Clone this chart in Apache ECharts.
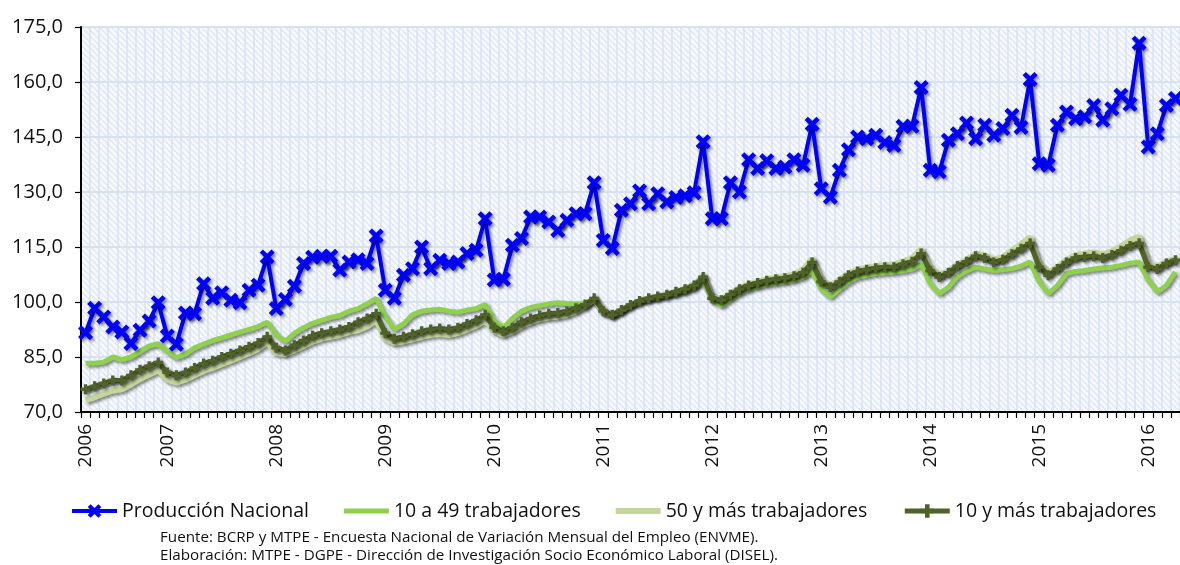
<!DOCTYPE html>
<html>
<head>
<meta charset="utf-8">
<script src="https://cdn.jsdelivr.net/npm/echarts@6/dist/echarts.min.js"></script>
<style>
html,body{margin:0;padding:0;background:#fff;}
#c{width:1180px;height:565px;}
</style>
</head>
<body>
<div id="c"></div>
<script>
// Months from Apr 2006 to Apr 2016
const startYear = 2006, startMonth = 4, monthCount = 121;
const categories = [];
for (let i = 0; i < monthCount; i++) {
  const m = (startMonth - 1 + i) % 12 + 1;
  const y = startYear + Math.floor((startMonth - 1 + i) / 12);
  categories.push(y + '-' + (m < 10 ? '0' + m : m));
}

const yTicks = [70, 85, 100, 115, 130, 145, 160, 175];

const seriesNames = ['Producción Nacional', '10 a 49 trabajadores', '50 y más trabajadores', '10 y más trabajadores'];

const produccionNacional = [
  91.6, 98.3, 95.9, 93.2, 91.8, 88.7, 92.3, 94.8, 99.8,
  90.7, 88.5, 97.0, 96.8, 105.0, 101.0, 102.5, 100.5, 99.8, 103.2, 104.6, 112.3,
  98.2, 100.7, 104.3, 110.5, 112.2, 112.5, 112.5, 108.7, 110.9, 111.5, 110.5, 118.0,
  103.2, 101.0, 107.3, 109.1, 115.0, 109.1, 111.4, 110.5, 110.9, 113.2, 114.1, 122.7,
  106.0, 106.2, 115.5, 117.3, 123.2, 123.2, 121.8, 119.5, 122.3, 124.1, 124.1, 132.5,
  116.8, 114.6, 125.0, 126.8, 130.3, 126.8, 129.5, 127.3, 128.5, 129.0, 129.8, 143.7,
  122.7, 122.7, 132.5, 130.0, 138.8, 136.4, 138.5, 136.4, 136.8, 138.8, 137.3, 148.5,
  130.9, 128.6, 135.9, 141.5, 145.0, 144.5, 145.5, 143.5, 142.7, 147.9, 147.9, 158.5,
  135.9, 135.5, 144.1, 145.9, 148.8, 144.5, 148.2, 145.5, 147.3, 150.9, 147.6, 160.7,
  137.7, 137.3, 148.2, 151.8, 150.0, 150.5, 153.6, 149.6, 152.7, 156.4, 153.9, 170.6,
  142.3, 145.9, 153.6, 155.5
];

const trab10a49 = [
  83.3, 83.3, 83.6, 85.0, 84.2, 85.0, 86.5, 88.0, 88.6,
  86.5, 84.8, 85.8, 87.5, 88.5, 89.5, 90.2, 91.0, 91.8, 92.5, 93.3, 94.5,
  91.0, 89.2, 91.5, 93.0, 94.2, 95.0, 95.8, 96.3, 97.5, 98.2, 99.5, 101.0,
  96.0, 92.5, 94.0, 96.5, 97.5, 97.8, 98.0, 97.5, 97.2, 97.8, 98.2, 99.3,
  94.8, 93.0, 95.5, 97.5, 98.5, 99.0, 99.5, 99.8, 99.6, 99.5, 99.5, 100.8,
  97.5, 96.2, 97.5, 99.2, 100.2, 100.8, 101.3, 101.8, 102.2, 103.0, 103.8, 105.8,
  100.5, 99.0, 100.8, 102.5, 103.5, 104.2, 104.8, 105.2, 105.5, 106.0, 106.8, 108.5,
  103.5, 101.4, 103.5, 105.5, 106.8, 107.3, 107.8, 108.0, 108.2, 108.5, 109.0, 110.3,
  105.0, 102.3, 104.0, 107.0, 108.5, 109.5, 109.0, 108.6, 108.8, 109.1, 109.8, 110.9,
  105.5, 102.3, 104.5, 107.8, 108.3, 108.6, 109.0, 109.3, 109.5, 110.0, 110.6, 110.9,
  106.0, 102.7, 104.5, 108.2
];

const trab50mas = [
  73.2, 74.0, 75.0, 75.8, 76.2, 77.5, 79.0, 80.2, 81.4,
  78.8, 78.0, 78.8, 80.0, 81.2, 82.0, 83.0, 84.0, 85.0, 86.0, 87.2, 89.0,
  86.0, 85.8, 86.8, 88.0, 89.2, 90.0, 90.5, 91.0, 91.8, 92.3, 93.3, 95.0,
  90.0, 88.8, 89.2, 89.8, 90.5, 91.0, 91.3, 91.0, 91.5, 92.5, 93.5, 95.0,
  92.0, 91.0, 92.0, 93.5, 94.5, 95.3, 95.8, 96.0, 96.5, 97.5, 98.8, 100.8,
  97.3, 96.5, 97.8, 99.2, 100.3, 101.0, 101.5, 102.0, 102.8, 103.6, 104.8, 107.0,
  101.2, 100.8, 102.3, 103.8, 104.8, 105.5, 106.2, 106.5, 107.0, 107.5, 108.8, 111.8,
  106.0, 104.5, 106.0, 107.8, 108.8, 109.3, 109.8, 110.0, 110.2, 111.0, 112.0, 114.3,
  109.2, 107.5, 108.3, 110.3, 111.5, 113.2, 112.7, 111.5, 112.3, 114.0, 115.8, 117.7,
  110.3, 108.0, 109.5, 111.5, 112.8, 113.2, 113.5, 113.0, 113.8, 115.2, 116.8, 117.8,
  110.5, 109.7, 111.0, 111.8
];

const trab10mas = [
  76.2, 77.0, 77.8, 78.6, 78.6, 80.0, 81.5, 82.5, 83.5,
  80.8, 80.0, 80.8, 82.0, 83.2, 84.0, 85.0, 85.9, 86.8, 87.8, 88.8, 90.5,
  87.5, 86.8, 88.2, 89.5, 90.8, 91.5, 92.0, 92.5, 93.2, 94.5, 95.5, 96.8,
  91.5, 90.0, 90.5, 91.2, 92.0, 92.5, 92.8, 92.5, 93.0, 94.0, 95.0, 96.5,
  93.0, 92.0, 93.0, 94.5, 95.5, 96.3, 96.8, 97.0, 97.5, 98.3, 99.3, 101.0,
  97.5, 96.5, 97.8, 99.2, 100.3, 101.0, 101.5, 102.0, 102.8, 103.5, 104.5, 106.8,
  101.0, 100.5, 102.0, 103.5, 104.5, 105.2, 105.8, 106.2, 106.5, 107.0, 108.0, 110.8,
  105.5, 104.0, 105.5, 107.3, 108.3, 108.8, 109.2, 109.5, 109.5, 110.3, 111.0, 113.2,
  108.5, 106.8, 108.0, 109.8, 111.0, 112.5, 112.0, 110.8, 111.5, 113.0, 114.5, 116.0,
  109.5, 107.3, 109.0, 110.8, 112.0, 112.3, 112.5, 112.0, 112.8, 114.0, 115.3, 116.0,
  109.5, 109.0, 110.5, 111.4
];

// hatch pattern for plot background
const tile = document.createElement('canvas');
tile.width = 6; tile.height = 6;
(function () {
  const g = tile.getContext('2d');
  g.fillStyle = '#f7f9fd';
  g.fillRect(0, 0, 6, 6);
  g.strokeStyle = '#dde6f3';
  g.lineWidth = 1.4;
  for (let k = -1; k <= 1; k++) {
    g.beginPath();
    g.moveTo(k * 6, 0);
    g.lineTo(k * 6 + 6, 6);
    g.stroke();
  }
})();

const FONT = '"Open Sans"';
const shadow = { shadowColor: 'rgba(0,0,0,0.45)', shadowBlur: 3, shadowOffsetX: 2, shadowOffsetY: 2 };
const xSymbol = 'path://M0,3 L3,0 L7,4 L11,0 L14,3 L10,7 L14,11 L11,14 L7,10 L3,14 L0,11 L4,7 Z';
const plusSymbol = 'path://M3,0 L6,0 L6,3 L9,3 L9,6 L6,6 L6,9 L3,9 L3,6 L0,6 L0,3 L3,3 Z';

const chart = echarts.init(document.getElementById('c'), null, { renderer: 'canvas' });
chart.setOption({
  animation: false,
  backgroundColor: '#ffffff',
  textStyle: { fontFamily: FONT },
  grid: {
    left: 81, top: 27, right: -4, bottom: 153,
    show: true,
    backgroundColor: { image: tile, repeat: 'repeat' },
    borderWidth: 0
  },
  legend: {
    data: [
      { name: seriesNames[0], lineStyle: { width: 4, shadowBlur: 0, shadowOffsetX: 0, shadowOffsetY: 0 } },
      { name: seriesNames[1], icon: 'path://M0,0 L45,0 L45,5 L0,5 Z', itemStyle: { color: '#8fd14f' } },
      { name: seriesNames[2], icon: 'path://M0,0 L45,0 L45,6 L0,6 Z', itemStyle: { color: '#c3d69b' } },
      { name: seriesNames[3], lineStyle: { width: 5, shadowBlur: 0, shadowOffsetX: 0, shadowOffsetY: 0 } }
    ],
    orient: 'horizontal',
    left: 65, top: 496, width: 1115,
    itemWidth: 45, itemHeight: 17, itemGap: 35,
    textStyle: { fontFamily: FONT, fontSize: 19.5, color: '#111' }
  },
  xAxis: {
    type: 'category',
    data: categories,
    boundaryGap: true,
    axisLine: { show: true, lineStyle: { color: '#000', width: 2 } },
    axisTick: { show: true, interval: 0, length: 6, lineStyle: { color: '#000', width: 1.2 } },
    axisLabel: {
      interval: function (idx, val) { return idx === 0 || val.slice(5) === '01'; },
      formatter: function (val) { return val.slice(0, 4); },
      rotate: 90, margin: 12,
      fontFamily: FONT, fontSize: 19, color: '#111'
    },
    splitLine: { show: true, interval: 0, lineStyle: { color: '#d7e2f1', width: 1.5 } }
  },
  yAxis: {
    type: 'value',
    min: yTicks[0], max: yTicks[yTicks.length - 1], interval: 15,
    axisLine: { show: true, lineStyle: { color: '#000', width: 2 } },
    axisTick: { show: true, length: 6, lineStyle: { color: '#000', width: 1.2 } },
    axisLabel: {
      formatter: function (v) { return v.toFixed(1).replace('.', ','); },
      margin: 18, fontFamily: FONT, fontSize: 20, color: '#111'
    },
    splitLine: { show: true, lineStyle: { color: '#d7e2f1', width: 2 } }
  },
  series: [
    {
      name: seriesNames[1], type: 'line', data: trab10a49,
      symbol: 'none', color: '#8fd14f',
      lineStyle: Object.assign({ width: 5, color: '#8fd14f' }, shadow), z: 2
    },
    {
      name: seriesNames[2], type: 'line', data: trab50mas,
      symbol: 'none', color: '#c3d69b',
      lineStyle: Object.assign({ width: 6, color: '#c3d69b' }, shadow), z: 3
    },
    {
      name: seriesNames[3], type: 'line', data: trab10mas,
      symbol: plusSymbol, symbolSize: 10, showSymbol: true, showAllSymbol: true, color: '#4f6228',
      itemStyle: Object.assign({ color: '#4f6228' }, shadow),
      lineStyle: Object.assign({ width: 5, color: '#4f6228' }, shadow), z: 4
    },
    {
      name: seriesNames[0], type: 'line', data: produccionNacional,
      symbol: xSymbol, symbolSize: 15, showSymbol: true, showAllSymbol: true, color: '#0000ff',
      itemStyle: Object.assign({ color: '#0000ff' }, shadow),
      lineStyle: Object.assign({ width: 4, color: '#0000ff' }, shadow), z: 5
    }
  ],
  graphic: [
    { type: 'text', left: 160, top: 530, style: { text: 'Fuente: BCRP y MTPE - Encuesta Nacional de Variación Mensual del Empleo (ENVME).', fontFamily: FONT, fontSize: 15.2, fill: '#111' } },
    { type: 'text', left: 160, top: 548, style: { text: 'Elaboración: MTPE - DGPE - Dirección de Investigación Socio Económico Laboral (DISEL).', fontFamily: FONT, fontSize: 15.2, fill: '#111' } }
  ]
});
</script>
</body>
</html>
